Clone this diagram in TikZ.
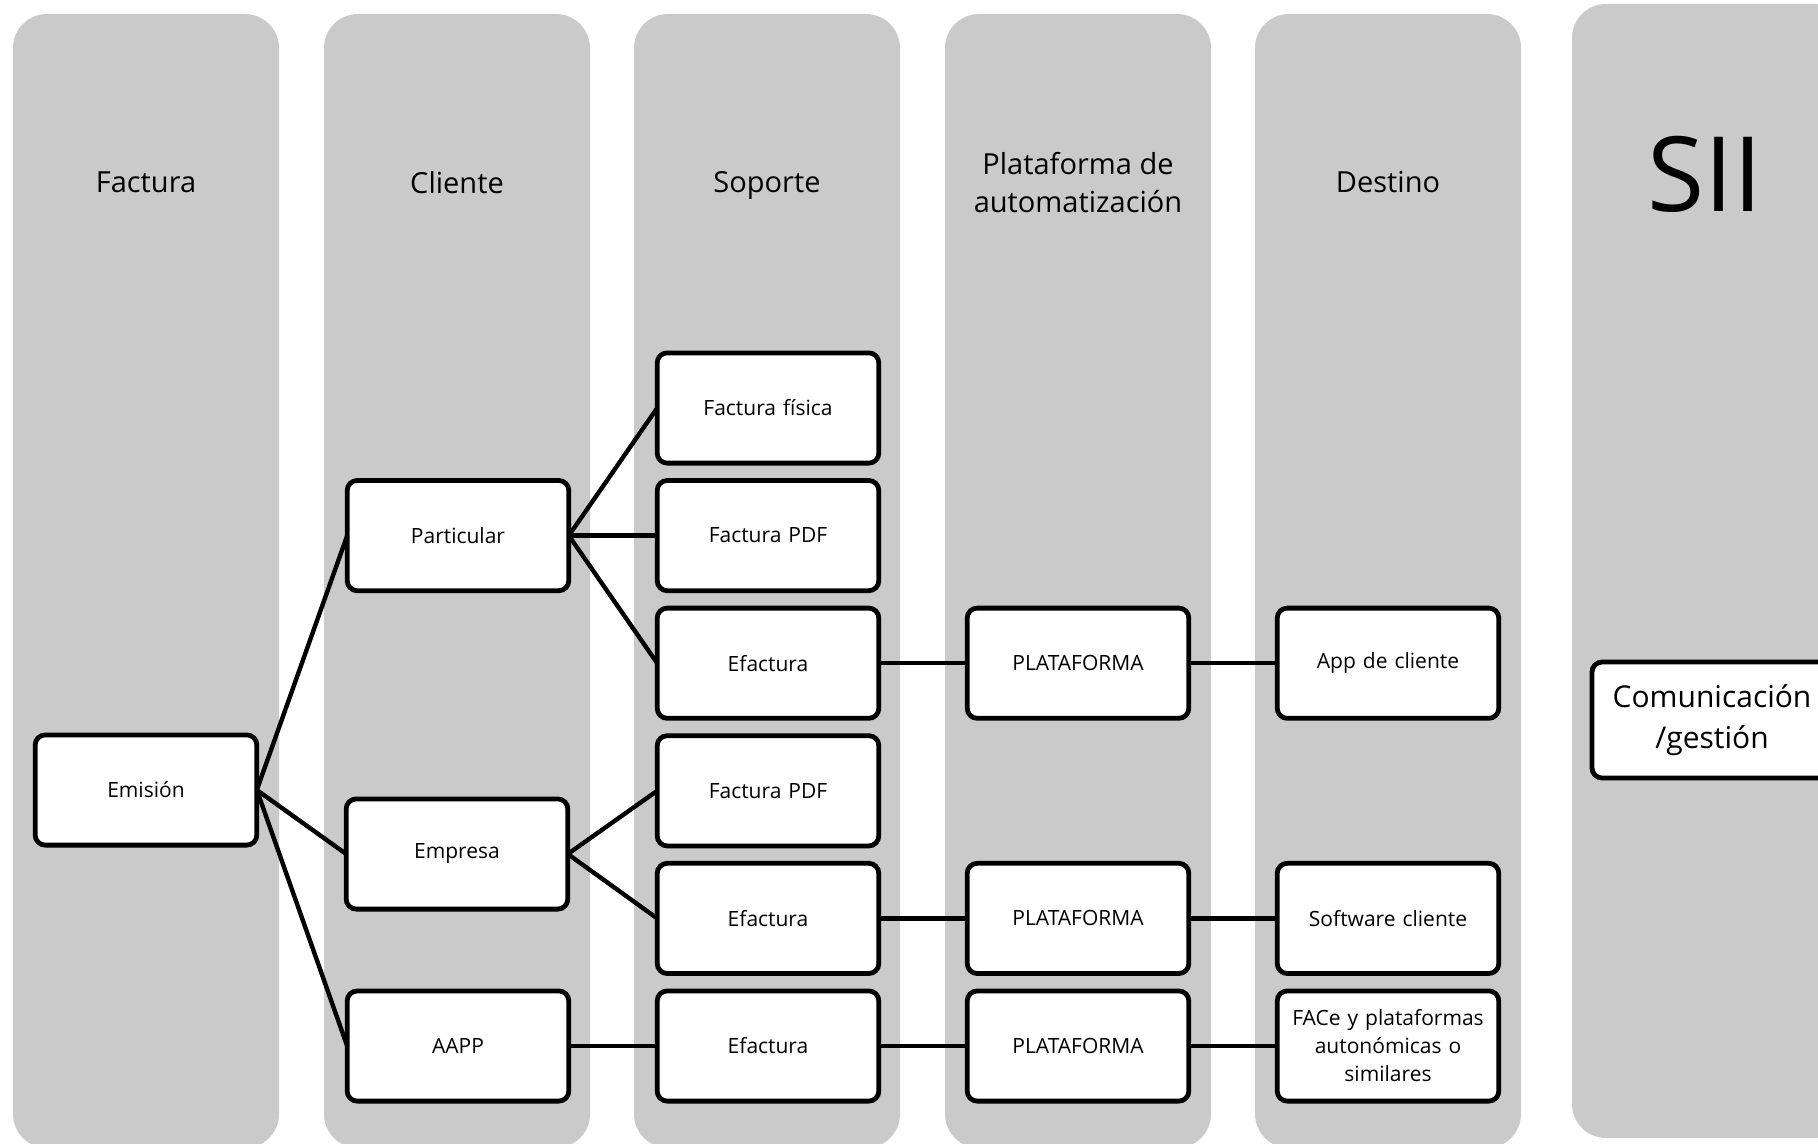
\documentclass[tikz,border=0pt]{standalone}
\usepackage{fontspec}
\setmainfont{Open Sans}
\usetikzlibrary{positioning}
\definecolor{lanegray}{RGB}{202,202,202}

\begin{document}
\begin{tikzpicture}[
  x=0.5pt, y=-0.5pt,
  node distance=8.7pt and 44.2pt,
  lane/.style={fill=lanegray, rounded corners=17pt},
  head/.style={align=center, text depth=0.3em, font=\fontsize{14.5}{19}\selectfont},
  box/.style={rectangle, draw, line width=2.4pt, rounded corners=5pt, fill=white, minimum width=110.8pt, minimum height=55.1pt, text width=104pt, align=center, inner sep=1pt, outer sep=0pt, font=\fontsize{10.5}{14}\selectfont},
  link/.style={line width=2.2pt}
]
\useasboundingbox (0,0) rectangle (1818,1144);

% Lanes
\foreach \cx/\lbl/\txt in {146/fac/Factura, 457/cli/Cliente, 767/sop/Soporte, 1078/pla/{Plataforma de\\automatización}, 1388/des/Destino} {
  \fill[lane] (\cx-133,14) rectangle (\cx+133,1148);
  \node[head] (\lbl) at (\cx,185) {\txt};
}
\fill[lane] (1572,4) rectangle (1850,1138);
\node[font=\fontsize{52}{60}\selectfont] (sii) at (1705,174) {SII};

% Soporte
\node[box] (fisica) at (768,408) {Factura física};
\node[box, below=of fisica] (pdfa) {Factura PDF};
\node[box, below=of pdfa] (efa) {Efactura};
\node[box, below=of efa] (pdfb) {Factura PDF};
\node[box, below=of pdfb] (efb) {Efactura};
\node[box, below=of efb] (efc) {Efactura};

% Cliente
\node[box, left=of pdfa] (part) {Particular};
\node[box] (empresa) at (457,854) {Empresa};
\node[box, left=of efc] (aapp) {AAPP};

% Factura
\node[box] (emision) at (146,790) {Emisión};

% Plataforma
\node[box, right=of efa] (plata) {PLATAFORMA};
\node[box, right=of efb] (platb) {PLATAFORMA};
\node[box, right=of efc] (platc) {PLATAFORMA};

% Destino
\node[box, right=of plata] (app) {App de cliente};
\node[box, right=of platb] (soft) {Software cliente};
\node[box, right=of platc] (face) {FACe y plataformas\\autonómicas o\\similares};

% SII
\node[box, minimum width=119pt, minimum height=58pt, text width=118pt, font=\fontsize{15}{20.5}\selectfont] (comun) at (1712,720) {Comunicación\\/gestión};

% Links
\draw[link] (emision.east) -- (part.west);
\draw[link] (emision.east) -- (empresa.west);
\draw[link] (emision.east) -- (aapp.west);
\draw[link] (part.east) -- (fisica.west);
\draw[link] (part.east) -- (pdfa.west);
\draw[link] (part.east) -- (efa.west);
\draw[link] (empresa.east) -- (pdfb.west);
\draw[link] (empresa.east) -- (efb.west);
\draw[link] (aapp) -- (efc);
\draw[link] (efa) -- (plata);
\draw[link] (plata) -- (app);
\draw[link] (efb) -- (platb);
\draw[link] (platb) -- (soft);
\draw[link] (efc) -- (platc);
\draw[link] (platc) -- (face);

\end{tikzpicture}
\end{document}
